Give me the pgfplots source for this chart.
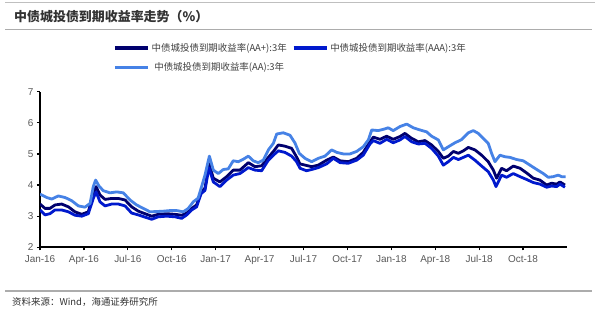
\documentclass[border=0pt]{standalone}
\usepackage{fontspec}
\setmainfont{Liberation Sans}
\newfontfamily\cjk{Noto Sans CJK SC}
\usepackage{pgfplots}
\pgfplotsset{compat=1.18}
\definecolor{cAAp}{RGB}{0,0,110}
\definecolor{cAAA}{RGB}{0,25,205}
\definecolor{cAA}{RGB}{70,130,230}
\definecolor{tickc}{RGB}{89,89,89}
\begin{document}
\begin{tikzpicture}
\useasboundingbox (0bp,0bp) rectangle (600bp,313bp);
\fill[white] (0bp,0bp) rectangle (600bp,313bp);
\draw[gray!50, line width=0.6bp] (5bp,311bp) -- (595bp,311bp);
\node[anchor=west, inner sep=0pt, font=\cjk\bfseries\fontsize{13}{15}\selectfont, text=black!80] at (14bp,296bp) {中债城投债到期收益率走势（\%）};
\draw[gray!65, line width=1.5bp] (5bp,283.5bp) -- (592bp,283.5bp);
\begin{axis}[at={(40bp,65.7bp)}, anchor=south west, scale only axis,
  width=527bp, height=155.6bp,
  xmin=0, xmax=36, ymin=2, ymax=7,
  axis x line*=bottom, axis y line*=left,
  axis line style={black, line width=1.6bp},
  xtick={0,3,...,33},
  xticklabels={Jan-16,Apr-16,Jul-16,Oct-16,Jan-17,Apr-17,Jul-17,Oct-17,Jan-18,Apr-18,Jul-18,Oct-18},
  ytick={2,3,4,5,6,7},
  tick align=outside, major tick length=3bp,
  tick style={black, line width=1.2bp},
  ticklabel style={font=\fontsize{10}{12}\selectfont, text=tickc},
  xticklabel style={yshift=-1.5bp},
  /pgf/number format/assume math mode=true,
  legend columns=2,
  legend style={at={(axis description cs:0.1385,1.326)}, anchor=north west,
    draw=none, fill=none, inner sep=0pt,
    font=\cjk\fontsize{9.5}{11}\selectfont, text=black!75,
    /tikz/every even column/.append style={column sep=3bp},
    row sep=6bp},
  legend image code/.code={\draw[#1, line width=3.5bp] (0bp,0bp) -- (33bp,0bp);},
  every axis plot/.append style={line width=2.8bp, line join=round},
]
\addplot[cAAp] coordinates {
(0,3.39) (0.34,3.25) (0.68,3.25) (1.02,3.36) (1.48,3.39) (1.94,3.30) (2.39,3.14) (2.85,3.06) (3.3,3.14) (3.64,3.73) (3.83,3.95) (4.1,3.68) (4.44,3.54) (4.9,3.57) (5.35,3.57) (5.81,3.52) (6.26,3.30) (6.72,3.16) (7.17,3.08) (7.63,3.00) (8.08,3.06) (8.65,3.08) (9.22,3.06) (9.68,3.03) (10.02,3.10) (10.36,3.25) (10.7,3.36) (11.0,3.78) (11.27,3.90) (11.54,4.70) (11.84,4.22) (12.29,4.10) (12.75,4.27) (13.2,4.48) (13.66,4.48) (14.23,4.72) (14.69,4.59) (15.14,4.62) (15.6,4.89) (15.94,5.08) (16.28,5.29) (16.73,5.25) (17.19,5.18) (17.53,4.90) (17.76,4.68) (18.56,4.59) (19.01,4.64) (19.58,4.80) (20.04,4.90) (20.5,4.78) (21.06,4.75) (21.63,4.86) (22.08,5.05) (22.54,5.39) (22.77,5.54) (23.22,5.47) (23.68,5.57) (24.13,5.47) (24.59,5.56) (24.93,5.66) (25.39,5.50) (25.85,5.39) (26.3,5.43) (26.75,5.29) (27.21,5.08) (27.55,4.86) (27.89,4.93) (28.24,5.08) (28.58,5.02) (28.92,5.10) (29.26,5.21) (29.71,5.13) (30.17,4.96) (30.62,4.75) (30.97,4.48) (31.19,4.22) (31.53,4.54) (31.87,4.46) (32.33,4.61) (32.79,4.54) (33.24,4.39) (33.7,4.22) (34.15,4.16) (34.61,4.00) (34.95,4.06) (35.29,4.03) (35.52,4.10) (35.86,4.00)
};
\addlegendentry{中债城投债到期收益率(AA+):3年}
\addplot[cAAA] coordinates {
(0,3.20) (0.34,3.04) (0.68,3.08) (1.02,3.20) (1.48,3.20) (1.94,3.14) (2.39,3.03) (2.85,3.00) (3.3,3.08) (3.64,3.57) (3.83,3.78) (4.1,3.46) (4.44,3.33) (4.9,3.39) (5.35,3.39) (5.81,3.33) (6.26,3.10) (6.72,3.04) (7.17,2.97) (7.63,2.90) (8.08,2.98) (8.65,3.00) (9.22,2.98) (9.68,2.93) (10.02,3.04) (10.36,3.20) (10.7,3.30) (11.0,3.72) (11.27,3.83) (11.54,4.56) (11.84,4.10) (12.29,3.95) (12.75,4.16) (13.2,4.32) (13.66,4.37) (14.23,4.56) (14.69,4.48) (15.14,4.46) (15.6,4.80) (15.94,4.96) (16.28,5.10) (16.73,5.05) (17.19,4.93) (17.53,4.75) (17.76,4.54) (18.2,4.46) (18.56,4.50) (19.01,4.56) (19.58,4.68) (20.04,4.86) (20.5,4.72) (21.06,4.70) (21.63,4.80) (22.08,4.96) (22.54,5.32) (22.77,5.43) (23.22,5.34) (23.68,5.47) (24.13,5.36) (24.59,5.45) (24.93,5.56) (25.39,5.39) (25.85,5.32) (26.3,5.34) (26.75,5.18) (27.21,4.93) (27.55,4.64) (27.89,4.75) (28.24,4.89) (28.58,4.82) (28.92,4.89) (29.26,4.96) (29.71,4.80) (30.17,4.61) (30.62,4.43) (30.97,4.16) (31.15,3.95) (31.53,4.32) (31.87,4.25) (32.33,4.37) (32.79,4.27) (33.24,4.18) (33.7,4.08) (34.15,4.03) (34.61,3.93) (34.95,3.97) (35.29,3.95) (35.52,4.03) (35.86,3.93)
};
\addlegendentry{中债城投债到期收益率(AAA):3年}
\addplot[cAA] coordinates {
(0,3.71) (0.46,3.60) (0.8,3.55) (1.25,3.65) (1.71,3.60) (2.16,3.50) (2.62,3.33) (3.07,3.29) (3.42,3.41) (3.64,3.95) (3.8,4.16) (4.03,3.97) (4.32,3.82) (4.78,3.75) (5.24,3.78) (5.69,3.75) (6.15,3.52) (6.6,3.36) (7.06,3.25) (7.51,3.14) (7.97,3.15) (8.42,3.16) (8.88,3.18) (9.34,3.18) (9.79,3.14) (10.13,3.25) (10.47,3.46) (10.8,3.58) (11.04,3.95) (11.27,4.32) (11.57,4.93) (11.84,4.48) (12.18,4.37) (12.52,4.50) (12.86,4.52) (13.2,4.78) (13.55,4.75) (13.89,4.83) (14.23,4.93) (14.57,4.78) (14.9,4.72) (15.25,4.80) (15.6,5.13) (15.94,5.34) (16.17,5.64) (16.62,5.68) (17.08,5.60) (17.42,5.35) (17.71,5.02) (18.1,4.86) (18.56,4.75) (19.01,4.86) (19.47,4.93) (19.92,5.13) (20.27,5.05) (20.72,5.00) (21.17,5.00) (21.63,5.08) (22.08,5.23) (22.43,5.45) (22.66,5.77) (23.11,5.75) (23.45,5.79) (23.79,5.84) (24.13,5.75) (24.59,5.88) (25.05,5.96) (25.5,5.84) (25.96,5.77) (26.41,5.71) (26.75,5.57) (27.21,5.45) (27.55,5.13) (27.89,5.23) (28.35,5.36) (28.8,5.46) (29.26,5.68) (29.6,5.75) (29.94,5.66) (30.28,5.50) (30.62,5.34) (30.85,5.02) (31.08,4.75) (31.42,4.96) (31.76,4.91) (32.1,4.89) (32.56,4.82) (33.01,4.78) (33.47,4.64) (33.93,4.50) (34.38,4.37) (34.72,4.25) (35.06,4.27) (35.4,4.32) (35.63,4.27) (35.9,4.27)
};
\addlegendentry{中债城投债到期收益率(AA):3年}
\end{axis}
\draw[gray!65, line width=1.5bp] (5bp,22bp) -- (592bp,22bp);
\node[anchor=west, inner sep=0pt, font=\cjk\fontsize{9.5}{11}\selectfont, text=black!80] at (12bp,11bp) {资料来源：Wind，海通证券研究所};
\end{tikzpicture}
\end{document}
